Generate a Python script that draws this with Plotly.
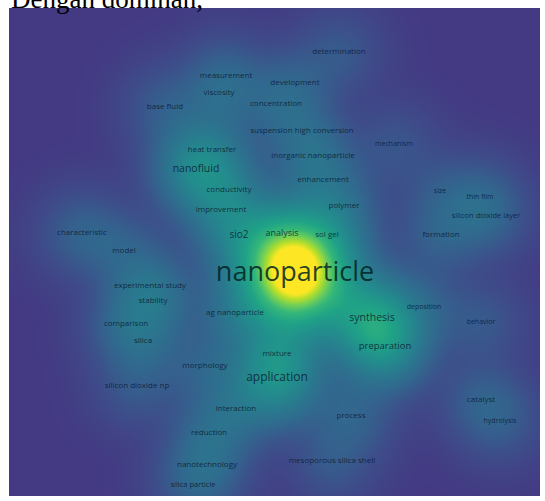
import numpy as np
import plotly.graph_objects as go

# Term map: label, position on the map, occurrence weight, label font size
terms = ["determination", "measurement", "development", "viscosity", "base fluid",
         "concentration", "suspension high conversion", "mechanism", "heat transfer",
         "inorganic nanoparticle", "nanofluid", "enhancement", "conductivity",
         "improvement", "polymer", "size", "thin film", "silicon dioxide layer",
         "sio2", "analysis", "sol gel", "formation", "characteristic", "model",
         "nanoparticle", "experimental study", "stability", "ag nanoparticle",
         "deposition", "synthesis", "comparison", "behavior", "silica",
         "preparation", "mixture", "morphology", "application",
         "silicon dioxide np", "catalyst", "interaction", "process", "hydrolysis",
         "reduction", "mesoporous silica shell", "nanotechnology", "silica particle"]
pos_x = [339, 226, 295, 219, 165, 276, 302, 394, 212, 313, 196, 323, 229, 221, 344,
         440, 480, 486, 239, 282, 327, 441, 82, 124, 295, 150, 153, 235, 424, 372,
         126, 481, 143, 385, 277, 205, 277, 137, 481, 236, 351, 500, 209, 332, 207, 193]
pos_y = [52, 76, 83, 93, 107, 104, 131, 144, 150, 156, 169, 180, 190, 210, 206,
         191, 197, 216, 235, 234, 235, 235, 233, 251, 274, 286, 301, 313, 307, 318,
         324, 322, 341, 347, 354, 366, 378, 386, 400, 409, 416, 421, 433, 461, 465, 485]
weight = [6, 7, 6, 7, 7, 7, 7, 5, 9, 8, 26, 8, 10, 10, 7, 5, 6, 8, 14, 12, 8, 8,
          9, 7, 100, 9, 9, 10, 6, 36, 8, 6, 8, 26, 10, 8, 32, 6, 7, 9, 9, 6, 8, 6,
          9, 6]
font_size = [8, 8, 8, 8, 8, 8, 8, 7, 8, 8, 10.5, 8, 8, 8, 8, 7, 7, 7.5, 10, 9, 8,
             8, 8, 8, 27, 8, 8, 8, 7, 10.5, 8, 7, 8, 9.5, 8, 8, 12, 8, 8, 8, 8, 7,
             8, 8, 8, 7.5]

# Kernel density over the map area; heavier terms spread a little wider
gx = np.arange(9, 541, 2.0)
gy = np.arange(8, 497, 2.0)
XX, YY = np.meshgrid(gx, gy)
dens = np.zeros_like(XX)
for x0, y0, w in zip(pos_x, pos_y, weight):
    s = 25.0 + 0.11 * w
    dens += w * np.exp(-((XX - x0) ** 2 + (YY - y0) ** 2) / (2 * s ** 2))
dens = (dens / dens.max()) ** 0.5

colorscale = [
    [0.0, "#443983"], [0.18, "#3d4e8a"], [0.33, "#31688e"], [0.47, "#287c8e"],
    [0.6, "#21918c"], [0.69, "#20a386"], [0.77, "#35b779"], [0.83, "#6ece58"],
    [0.88, "#b5de2b"], [0.92, "#fde725"], [1.0, "#fde725"],
]

fig = go.Figure()
fig.add_trace(go.Heatmap(x=gx, y=gy, z=dens, colorscale=colorscale, zmin=0, zmax=1,
                         zsmooth="best", showscale=False, hoverinfo="skip"))
fig.add_trace(go.Scatter(
    x=pos_x, y=pos_y, mode="text", text=terms,
    textfont=dict(family="Open Sans", size=font_size,
                  color=["rgba(5,35,35,0.85)" if s > 20 else "rgba(10,22,45,0.8)"
                         for s in font_size]),
    hoverinfo="text", showlegend=False))

fig.add_annotation(text="Dengan dominan,", xref="paper", yref="paper", x=0, y=1,
                   xanchor="left", yanchor="bottom", xshift=0, yshift=-8,
                   showarrow=False,
                   font=dict(family="Liberation Serif", size=27, color="black"))

fig.update_xaxes(range=[9, 540], visible=False, fixedrange=True)
fig.update_yaxes(range=[496, 8], visible=False, fixedrange=True)
fig.update_layout(width=545, height=501, margin=dict(l=9, r=5, t=8, b=5),
                  paper_bgcolor="white", plot_bgcolor="#443983")
fig.write_html("out.html")
